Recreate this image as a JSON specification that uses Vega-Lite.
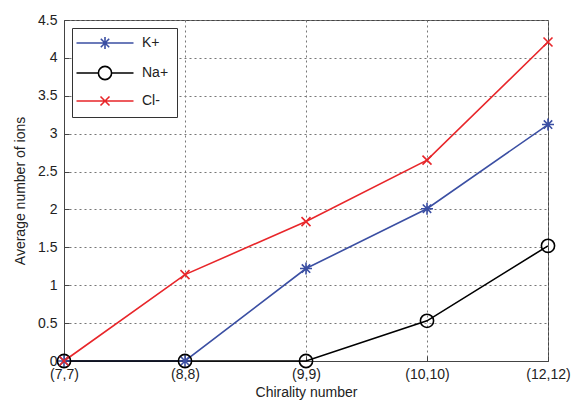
{
  "$schema": "https://vega.github.io/schema/vega-lite/v6.json",
  "width": 484,
  "height": 341,
  "autosize": {"type": "none"},
  "padding": {"left": 64, "top": 20, "right": 26, "bottom": 44},
  "background": "white",
  "config": {
    "font": "Liberation Sans",
    "view": {"stroke": "#444", "strokeWidth": 1},
    "axis": {
      "labelFont": "Liberation Sans",
      "titleFont": "Liberation Sans",
      "labelFontSize": 14,
      "titleFontSize": 14,
      "labelColor": "#222",
      "titleColor": "#222",
      "titleFontWeight": "normal",
      "domainColor": "#444",
      "tickColor": "#444",
      "gridColor": "#777",
      "gridDash": [2, 3],
      "gridOpacity": 1
    },
    "legend": {
      "title": null,
      "orient": "top-left",
      "offset": 8,
      "padding": 8,
      "strokeColor": "#333",
      "fillColor": "white",
      "cornerRadius": 0,
      "labelFontSize": 14,
      "labelFont": "Liberation Sans",
      "labelColor": "#222",
      "symbolSize": 144,
      "symbolStrokeWidth": 1.6,
      "symbolOffset": 18,
      "labelOffset": 30,
      "rowPadding": 10
    }
  },
  "data": {
    "values": [
      {"c": "(7,7)", "ion": "K+", "v": 0},
      {"c": "(8,8)", "ion": "K+", "v": 0},
      {"c": "(9,9)", "ion": "K+", "v": 1.22},
      {"c": "(10,10)", "ion": "K+", "v": 2.01},
      {"c": "(12,12)", "ion": "K+", "v": 3.12},
      {"c": "(7,7)", "ion": "Na+", "v": 0},
      {"c": "(8,8)", "ion": "Na+", "v": 0},
      {"c": "(9,9)", "ion": "Na+", "v": 0},
      {"c": "(10,10)", "ion": "Na+", "v": 0.53},
      {"c": "(12,12)", "ion": "Na+", "v": 1.52},
      {"c": "(7,7)", "ion": "Cl-", "v": 0},
      {"c": "(8,8)", "ion": "Cl-", "v": 1.14},
      {"c": "(9,9)", "ion": "Cl-", "v": 1.84},
      {"c": "(10,10)", "ion": "Cl-", "v": 2.65},
      {"c": "(12,12)", "ion": "Cl-", "v": 4.21}
    ]
  },
  "encoding": {
    "x": {
      "field": "c",
      "type": "ordinal",
      "sort": ["(7,7)", "(8,8)", "(9,9)", "(10,10)", "(12,12)"],
      "scale": {"type": "point", "padding": 0},
      "axis": {"title": "Chirality number", "labelAngle": 0, "grid": true, "tickSize": -5, "labelPadding": 11, "titlePadding": 4, "labelOverlap": false, "labelBound": false}
    },
    "y": {
      "field": "v",
      "type": "quantitative",
      "scale": {"domain": [0, 4.5], "nice": false},
      "axis": {"title": "Average number of ions", "values": [0, 0.5, 1, 1.5, 2, 2.5, 3, 3.5, 4, 4.5], "format": "~g", "grid": true, "tickSize": -5, "labelPadding": 12, "titlePadding": 10}
    },
    "color": {
      "field": "ion",
      "type": "nominal",
      "scale": {"domain": ["K+", "Na+", "Cl-"], "range": ["#3b4fa3", "#000000", "#e8262a"]},
      "legend": {
        "symbolType": {"expr": "datum.value === 'K+' ? 'M-4.75,0L4.75,0M0,-1L0,1M-0.7,-0.7L0.7,0.7M-0.7,0.7L0.7,-0.7' : datum.value === 'Na+' ? 'M-4.75,0L-1.1,0M1.1,0L4.75,0M1.1,0A1.1,1.1 0 1,1 -1.1,0A1.1,1.1 0 1,1 1.1,0Z' : 'M-4.75,0L4.75,0M-0.75,-0.75L0.75,0.75M-0.75,0.75L0.75,-0.75'"},
        "symbolFillColor": "transparent"
      }
    }
  },
  "layer": [
    {
      "mark": {"type": "line", "strokeWidth": 1.6}
    },
    {
      "transform": [{"filter": "datum.ion === 'K+'"}],
      "mark": {"type": "point", "filled": false, "strokeWidth": 1.6, "size": 144, "opacity": 1, "shape": "M0,-1L0,1M-1,0L1,0M-0.7,-0.7L0.7,0.7M-0.7,0.7L0.7,-0.7"}
    },
    {
      "transform": [{"filter": "datum.ion === 'Na+'"}],
      "mark": {"type": "point", "filled": false, "strokeWidth": 1.6, "size": 144, "opacity": 1, "shape": "M1.1,0A1.1,1.1 0 1,1 -1.1,0A1.1,1.1 0 1,1 1.1,0Z"}
    },
    {
      "transform": [{"filter": "datum.ion === 'Cl-'"}],
      "mark": {"type": "point", "filled": false, "strokeWidth": 1.6, "size": 144, "opacity": 1, "shape": "M-0.75,-0.75L0.75,0.75M-0.75,0.75L0.75,-0.75"}
    }
  ]
}
